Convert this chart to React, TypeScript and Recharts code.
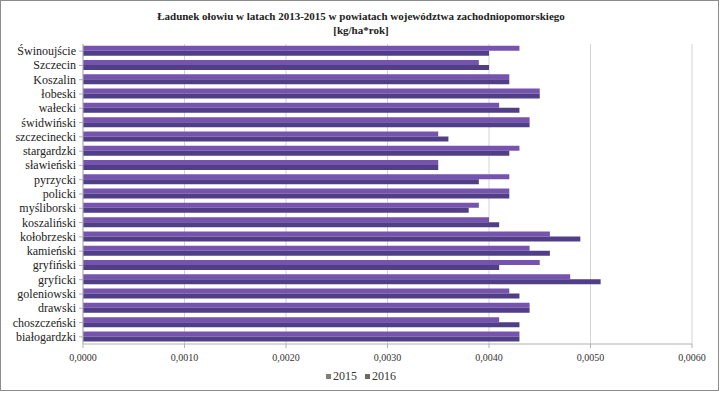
import React from 'react';
import { BarChart, Bar, XAxis, YAxis, CartesianGrid } from 'recharts';

const categories = [
  'Świnoujście', 'Szczecin', 'Koszalin', 'łobeski', 'wałecki', 'świdwiński',
  'szczecinecki', 'stargardzki', 'sławieński', 'pyrzycki', 'policki',
  'myśliborski', 'koszaliński', 'kołobrzeski', 'kamieński', 'gryfiński',
  'gryficki', 'goleniowski', 'drawski', 'choszczeński', 'białogardzki',
];

const values2016 = [
  0.0043, 0.0039, 0.0042, 0.0045, 0.0041, 0.0044, 0.0035, 0.0043, 0.0035, 0.0042, 0.0042,
  0.0039, 0.0040, 0.0046, 0.0044, 0.0045, 0.0048, 0.0042, 0.0044, 0.0041, 0.0043,
];

const values2015 = [
  0.0040, 0.0040, 0.0042, 0.0045, 0.0043, 0.0044, 0.0036, 0.0042, 0.0035, 0.0039, 0.0042,
  0.0038, 0.0041, 0.0049, 0.0046, 0.0041, 0.0051, 0.0043, 0.0044, 0.0043, 0.0043,
];

const xTicks = [0, 0.001, 0.002, 0.003, 0.004, 0.005, 0.006];
const seriesNames = ['2015', '2016'];
const titleLine1 = 'Ładunek ołowiu w latach 2013-2015 w powiatach województwa zachodniopomorskiego';
const titleLine2 = '[kg/ha*rok]';

const data = categories.map((name, i) => ({
  name,
  s2015: values2015[i],
  s2016: values2016[i],
}));

const FONT = '"Liberation Serif", "Times New Roman", serif';
const COLOR_UPPER = '#7753b0';
const COLOR_LOWER = '#503e86';

const XTick = (props: any) => {
  const { x, y, payload } = props;
  return (
    <text x={x} y={y + 11} textAnchor="middle" fontSize={10} fill="#333" fontFamily={FONT}>
      {Number(payload.value).toFixed(4).replace('.', ',')}
    </text>
  );
};

const YTick = (props: any) => {
  const { x, y, payload } = props;
  return (
    <text x={x - 1} y={y + 4} textAnchor="end" fontSize={12} fill="#222" fontFamily={FONT}>
      {payload.value}
    </text>
  );
};

export default function App() {
  return (
    <div
      style={{
        position: 'absolute',
        left: 0,
        top: 0,
        width: 722,
        height: 394,
        background: '#fff',
        fontFamily: FONT,
      }}
    >
      <div
        style={{
          position: 'absolute',
          left: 0,
          top: 0,
          width: 719,
          height: 391,
          border: '1.5px solid #8c8c8c',
          boxSizing: 'border-box',
          pointerEvents: 'none',
        }}
      />
      <div
        style={{
          position: 'absolute',
          left: 0,
          top: 9,
          width: 722,
          textAlign: 'center',
          fontWeight: 'bold',
          fontSize: 11,
          lineHeight: '14px',
          color: '#222',
        }}
      >
        <div>{titleLine1}</div>
        <div>{titleLine2}</div>
      </div>
      <BarChart
        width={722}
        height={394}
        data={data}
        layout="vertical"
        margin={{ top: 44, right: 30, bottom: 26, left: 0 }}
        barCategoryGap="12%"
        barGap={0}
        style={{ fontFamily: FONT }}
      >
        <CartesianGrid horizontal={false} vertical={true} stroke="#d4d4d4" />
        <XAxis
          type="number"
          domain={[0, 0.006]}
          ticks={xTicks}
          tick={<XTick />}
          axisLine={{ stroke: '#b0b0b0' }}
          tickLine={{ stroke: '#b0b0b0' }}
          tickSize={4}
          height={24}
        />
        <YAxis
          type="category"
          dataKey="name"
          width={83}
          tick={<YTick />}
          axisLine={{ stroke: '#b0b0b0' }}
          tickLine={{ stroke: '#b0b0b0' }}
          tickSize={4}
          interval={0}
        />
        <Bar dataKey="s2016" name={seriesNames[1]} fill={COLOR_UPPER} isAnimationActive={false} />
        <Bar dataKey="s2015" name={seriesNames[0]} fill={COLOR_LOWER} isAnimationActive={false} />
      </BarChart>
      <div
        style={{
          position: 'absolute',
          left: 0,
          top: 369,
          width: 722,
          display: 'flex',
          justifyContent: 'center',
          gap: 8,
          fontSize: 12,
          color: '#333',
        }}
      >
        {seriesNames.map((n, i) => (
          <span key={n} style={{ display: 'flex', alignItems: 'center' }}>
            <span
              style={{
                display: 'inline-block',
                width: 5,
                height: 5,
                background: i === 0 ? '#7e7e7e' : '#6a6a6a',
                marginRight: 2,
              }}
            />
            {n}
          </span>
        ))}
      </div>
    </div>
  );
}
